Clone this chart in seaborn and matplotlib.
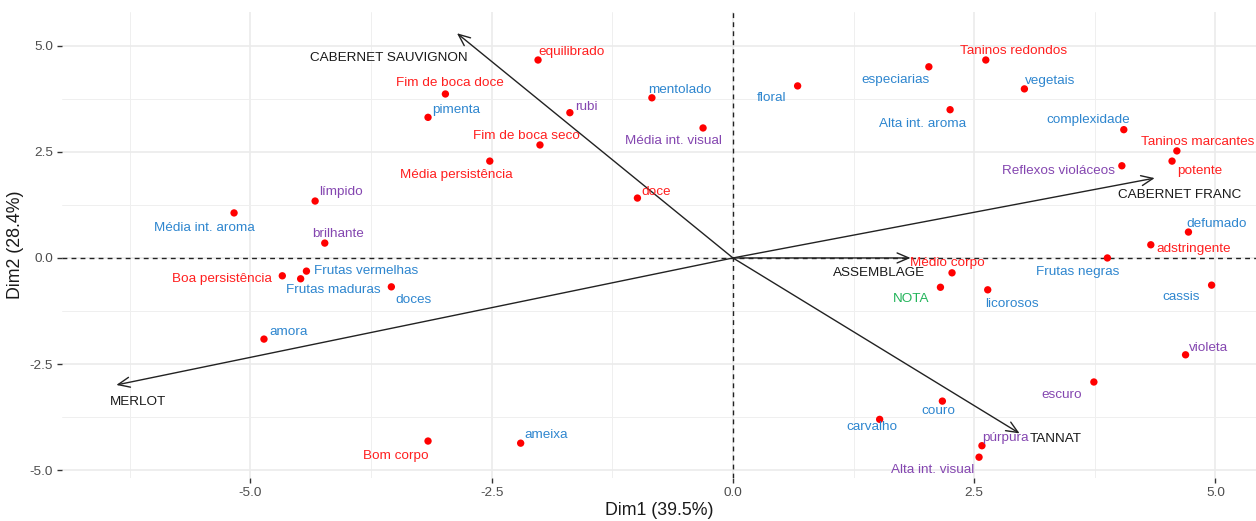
import matplotlib
matplotlib.use("Agg")
import matplotlib.pyplot as plt
import seaborn as sns
import pandas as pd

# Descritores sensoriais: coordenadas nas duas primeiras dimensões
descritores = [
    "equilibrado", "Fim de boca doce", "pimenta", "rubi", "mentolado",
    "Média int. visual", "floral", "Fim de boca seco", "Média persistência",
    "doce", "límpido", "Média int. aroma", "brilhante", "Boa persistência",
    "Frutas vermelhas", "Frutas maduras", "doces", "amora", "Bom corpo",
    "ameixa", "especiarias", "Taninos redondos", "vegetais", "Alta int. aroma",
    "complexidade", "Taninos marcantes", "potente", "Reflexos violáceos",
    "defumado", "adstringente", "Frutas negras", "Médio corpo", "NOTA",
    "licorosos", "cassis", "violeta", "escuro", "couro", "carvalho",
    "púrpura", "Alta int. visual",
]
dim1 = [
    -2.02, -2.98, -3.16, -1.69, -0.84,
    -0.31, 0.67, -2.00, -2.52,
    -0.99, -4.33, -5.17, -4.23, -4.67,
    -4.42, -4.48, -3.54, -4.86, -3.16,
    -2.20, 2.03, 2.62, 3.02, 2.25,
    4.05, 4.60, 4.55, 4.03,
    4.72, 4.33, 3.88, 2.27, 2.15,
    2.64, 4.96, 4.69, 3.74, 2.17, 1.52,
    2.58, 2.55,
]
dim2 = [
    4.66, 3.86, 3.31, 3.42, 3.77,
    3.06, 4.05, 2.66, 2.28,
    1.41, 1.34, 1.06, 0.35, -0.42,
    -0.31, -0.49, -0.68, -1.91, -4.31,
    -4.36, 4.50, 4.66, 3.98, 3.49,
    3.02, 2.52, 2.28, 2.17,
    0.61, 0.31, 0.00, -0.35, -0.69,
    -0.75, -0.64, -2.28, -2.92, -3.37, -3.80,
    -4.42, -4.69,
]
grupo = [
    "gustativo", "gustativo", "olfativo", "visual", "olfativo",
    "visual", "olfativo", "gustativo", "gustativo",
    "gustativo", "visual", "olfativo", "visual", "gustativo",
    "olfativo", "olfativo", "olfativo", "olfativo", "gustativo",
    "olfativo", "olfativo", "gustativo", "olfativo", "olfativo",
    "olfativo", "gustativo", "gustativo", "visual",
    "olfativo", "gustativo", "olfativo", "gustativo", "nota",
    "olfativo", "olfativo", "visual", "visual", "olfativo", "olfativo",
    "visual", "visual",
]

# Variedades (vetores a partir da origem)
variedades = ["CABERNET SAUVIGNON", "CABERNET FRANC", "MERLOT", "ASSEMBLAGE", "TANNAT"]
var_dim1 = [-2.86, 4.37, -6.39, 1.84, 2.97]
var_dim2 = [5.29, 1.88, -2.99, 0.00, -4.13]

# Deslocamento dos rótulos em pixels (dx, dy para cima)
desloc_rotulos = {
    "equilibrado": (34, 8), "Fim de boca doce": (4, 11), "pimenta": (28, 7),
    "rubi": (16, 6), "mentolado": (28, 8), "Média int. visual": (-30, -13),
    "floral": (-26, -12), "Fim de boca seco": (-14, 9),
    "Média persistência": (-33, -14), "doce": (19, 6), "límpido": (26, 9),
    "Média int. aroma": (-30, -15), "brilhante": (13, 9),
    "Boa persistência": (-60, -3), "Frutas vermelhas": (60, 0),
    "Frutas maduras": (33, -11), "doces": (22, -13), "amora": (25, 7),
    "Bom corpo": (-32, -15), "ameixa": (25, 8), "especiarias": (-33, -13),
    "Taninos redondos": (28, 9), "vegetais": (26, 8),
    "Alta int. aroma": (-28, -14), "complexidade": (-36, 10),
    "Taninos marcantes": (21, 9), "potente": (28, -10),
    "Reflexos violáceos": (-63, -5), "defumado": (28, 8),
    "adstringente": (43, -4), "Frutas negras": (-30, -14),
    "Médio corpo": (-5, 10), "NOTA": (-29, -12), "licorosos": (24, -14),
    "cassis": (-30, -12), "violeta": (23, 7), "escuro": (-32, -13),
    "couro": (-4, -10), "carvalho": (-8, -8), "púrpura": (23, 8),
    "Alta int. visual": (-46, -13),
}
desloc_variedades = {
    "CABERNET SAUVIGNON": (-68, -25), "CABERNET FRANC": (25, -17),
    "MERLOT": (22, -17), "ASSEMBLAGE": (-31, -15), "TANNAT": (36, -6),
}

cores = {"gustativo": "#FF1F1F", "olfativo": "#2E86CF",
         "visual": "#8446B0", "nota": "#22B45A"}

sns.set_theme(style="whitegrid")
plt.rcParams["font.family"] = ["Liberation Sans", "DejaVu Sans"]
plt.rcParams["axes.unicode_minus"] = False

df = pd.DataFrame({"descritor": descritores, "Dim1": dim1, "Dim2": dim2, "grupo": grupo})

fig = plt.figure(figsize=(12.56, 5.21), dpi=100)
ax = fig.add_axes([62 / 1256, 43 / 521, 1 - 62 / 1256, 466 / 521])

ax.set_xlim(-6.953, 5.42)
ax.set_ylim(-5.18, 5.79)

# grade no estilo minimalista
ax.set_facecolor("white")
for s in ax.spines.values():
    s.set_visible(False)
ax.set_xticks([-5.0, -2.5, 0.0, 2.5, 5.0])
ax.set_yticks([-5.0, -2.5, 0.0, 2.5, 5.0])
ax.set_xticks([-6.25, -3.75, -1.25, 1.25, 3.75], minor=True)
ax.set_yticks([-3.75, -1.25, 1.25, 3.75], minor=True)
ax.grid(True, which="major", color="#EBEBEB", linewidth=1.2, zorder=0)
ax.grid(True, which="minor", color="#EFEFEF", linewidth=0.7, zorder=0)
ax.set_axisbelow(True)
ax.tick_params(axis="both", which="major", length=3.5, width=1.0, color="#333333",
               labelsize=9.7, labelcolor="#4D4D4D", pad=3, direction="out",
               bottom=True, left=True)
ax.tick_params(axis="both", which="minor", length=0)
ax.set_xticklabels(["-5.0", "-2.5", "0.0", "2.5", "5.0"])
ax.set_yticklabels(["-5.0", "-2.5", "0.0", "2.5", "5.0"])

# eixos de referência
ax.axhline(0, color="#222222", linestyle=(0, (3.5, 3)), linewidth=1.0, zorder=1)
ax.axvline(0, color="#222222", linestyle=(0, (3.5, 3)), linewidth=1.0, zorder=1)

# pontos dos descritores
sns.scatterplot(data=df, x="Dim1", y="Dim2", color="#FF0000", s=28,
                edgecolor="none", legend=False, ax=ax, zorder=3)

for nome, x, y, g in zip(descritores, dim1, dim2, grupo):
    dx, dy = desloc_rotulos[nome]
    ax.annotate(nome, (x, y), xytext=(dx, dy), textcoords="offset pixels",
                ha="center", va="center", fontsize=9.7, color=cores[g],
                zorder=4, annotation_clip=False)

# vetores das variedades
for nome, x, y in zip(variedades, var_dim1, var_dim2):
    ax.annotate("", xy=(x, y), xytext=(0, 0),
                arrowprops=dict(arrowstyle="->,head_length=0.7,head_width=0.3",
                                color="#222222", lw=1.0, shrinkA=0, shrinkB=0),
                zorder=2)
    dx, dy = desloc_variedades[nome]
    ax.annotate(nome, (x, y), xytext=(dx, dy), textcoords="offset pixels",
                ha="center", va="center", fontsize=9.7, color="#1A1A1A", zorder=4)

ax.set_xlabel("Dim1 (39.5%)", fontsize=12.8, color="#1A1A1A", labelpad=2)
ax.set_ylabel("Dim2 (28.4%)", fontsize=12.8, color="#1A1A1A", labelpad=4)

fig.savefig("out.png", dpi=100)
